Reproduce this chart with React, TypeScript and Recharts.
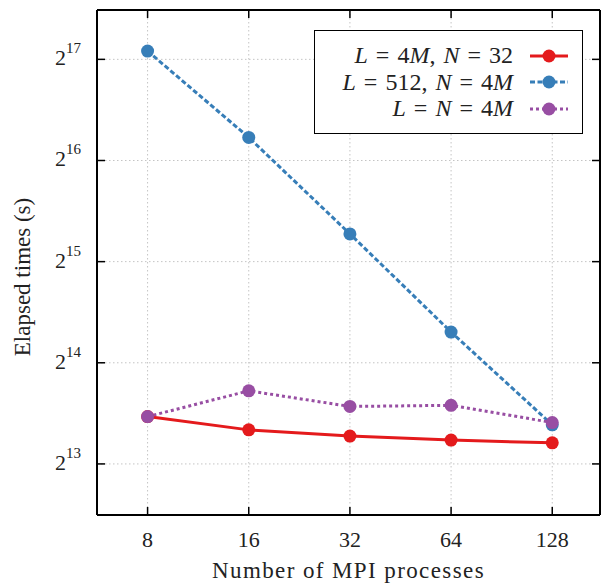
import { CartesianGrid, Legend, Line, LineChart, ReferenceLine, XAxis, YAxis } from "recharts"

// number of MPI processes
const procs = [8, 16, 32, 64, 128]
// elapsed times (s) per series
const timesL4mN32 = [11330, 10345, 9913, 9645, 9465]
const timesL512N4m = [138750, 76750, 39630, 20225, 10710]
const timesLN4m = [11330, 13520, 12145, 12240, 10877]

const seriesNames = ["L = 4M, N = 32", "L = 512, N = 4M", "L = N = 4M"]
const seriesColors = ["#e41a1c", "#377eb8", "#984ea3"]
const seriesDash = ["", "5 2.5", "3 3"]

const xTicks = [8, 16, 32, 64, 128]
const yExponents = [13, 14, 15, 16, 17]
const yTicks = yExponents.map((e) => Math.pow(2, e))

const X_DOMAIN = [Math.pow(2, 2.5), Math.pow(2, 7.472)]
const Y_DOMAIN = [Math.pow(2, 12.495), Math.pow(2, 17.488)]

const W = 606
const H = 584
const PLOT_LEFT = 97
const PLOT_TOP = 10
const PLOT_RIGHT = 600
const PLOT_BOTTOM = 515
const FONT = "'Liberation Serif', 'Times New Roman', serif"

const data = procs.map((p, i) => ({
  procs: p,
  a: timesL4mN32[i],
  b: timesL512N4m[i],
  c: timesLN4m[i],
}))

function XTick(props: any) {
  const { x, y, payload } = props
  return (
    <g>
      <line x1={x} x2={x} y1={y} y2={y - 8} stroke="#000" strokeWidth={1.5} />
      <line x1={x} x2={x} y1={PLOT_TOP} y2={PLOT_TOP + 8} stroke="#000" strokeWidth={1.5} />
      <text x={x} y={y + 32} textAnchor="middle" fontSize={22} fill="#222" fontFamily={FONT}>
        {payload.value}
      </text>
    </g>
  )
}

function YTick(props: any) {
  const { x, y, payload } = props
  const exp = Math.round(Math.log2(payload.value))
  return (
    <g>
      <line x1={x} x2={x + 8} y1={y} y2={y} stroke="#000" strokeWidth={1.5} />
      <line x1={PLOT_RIGHT - 8} x2={PLOT_RIGHT} y1={y} y2={y} stroke="#000" strokeWidth={1.5} />
      <text x={x - 16} y={y + 6} textAnchor="end" fontSize={22} fill="#222" fontFamily={FONT}>
        <tspan>2</tspan>
        <tspan dy={-12} fontSize={15}>{exp}</tspan>
      </text>
    </g>
  )
}

// italic letters, upright digits and operators, math-like spacing
function MathText({ text }: { text: string }) {
  return (
    <span>
      {text.split("").map((ch, i) =>
        /[A-Z]/.test(ch) ? (
          <i key={i}>{ch}</i>
        ) : (
          <span key={i}>{ch === " " ? "\u2004" : ch}</span>
        )
      )}
    </span>
  )
}

function LegendBox() {
  return (
    <div
      style={{
        position: "relative",
        width: 269,
        height: 104,
        border: "1.5px solid #000",
        boxSizing: "border-box",
        background: "#fff",
        fontFamily: FONT,
        fontSize: 24,
        color: "#222",
      }}
    >
      {seriesNames.map((name, i) => (
        <div
          key={name}
          style={{ position: "absolute", left: 0, top: 11 + i * 26.5, height: 27, width: 267, display: "flex", alignItems: "center" }}
        >
          <div style={{ width: 198, textAlign: "right", whiteSpace: "nowrap" }}>
            <MathText text={name} />
          </div>
          <svg width={44} height={20} style={{ marginLeft: 15 }}>
            <line
              x1={2}
              x2={40}
              y1={10}
              y2={10}
              stroke={seriesColors[i]}
              strokeWidth={3}
              strokeDasharray={seriesDash[i] || undefined}
            />
            <circle cx={21} cy={10} r={6.5} fill={seriesColors[i]} />
          </svg>
        </div>
      ))}
    </div>
  )
}

export default function App() {
  const keys = ["a", "b", "c"]
  return (
    <div style={{ position: "absolute", left: 0, top: 0 }}>
      <LineChart
        width={W}
        height={H}
        data={data}
        margin={{ top: PLOT_TOP, right: W - PLOT_RIGHT, bottom: 0, left: 0 }}
        style={{ fontFamily: FONT }}
      >
        <CartesianGrid stroke="#c4c4c4" strokeDasharray="1.5 2.5" />
        <XAxis
          dataKey="procs"
          type="number"
          scale="log"
          domain={X_DOMAIN}
          allowDataOverflow
          ticks={xTicks}
          interval={0}
          height={H - PLOT_BOTTOM}
          tickLine={false}
          tickSize={0}
          tickMargin={0}
          axisLine={{ stroke: "#000", strokeWidth: 2 }}
          tick={<XTick />}
          label={{
            content: () => (
              <text
                x={(PLOT_LEFT + PLOT_RIGHT) / 2}
                y={578}
                textAnchor="middle"
                fontSize={23}
                letterSpacing={1.4}
                fill="#222"
                fontFamily={FONT}
              >
                Number of MPI processes
              </text>
            ),
          }}
        />
        <YAxis
          type="number"
          scale="log"
          domain={Y_DOMAIN}
          allowDataOverflow
          ticks={yTicks}
          interval={0}
          width={PLOT_LEFT}
          tickLine={false}
          tickSize={0}
          tickMargin={0}
          axisLine={{ stroke: "#000", strokeWidth: 2 }}
          tick={<YTick />}
          label={{
            content: () => (
              <text
                transform="translate(30,277) rotate(-90)"
                textAnchor="middle"
                fontSize={23}
                fill="#222"
                fontFamily={FONT}
              >
                Elapsed times (s)
              </text>
            ),
          }}
        />
        <ReferenceLine y={Y_DOMAIN[1]} stroke="#000" strokeWidth={2} ifOverflow="visible" />
        <ReferenceLine x={X_DOMAIN[1]} stroke="#000" strokeWidth={2} ifOverflow="visible" />
        {keys.map((k, i) => (
          <Line
            key={k}
            dataKey={k}
            name={seriesNames[i]}
            stroke={seriesColors[i]}
            strokeWidth={3}
            strokeDasharray={seriesDash[i] || undefined}
            dot={{ r: 6.5, fill: seriesColors[i], stroke: seriesColors[i], strokeWidth: 0, strokeDasharray: "none" }}
            activeDot={false}
            isAnimationActive={false}
          />
        ))}
        <Legend
          layout="vertical"
          align="center"
          verticalAlign="middle"
          wrapperStyle={{ left: 314, top: 30, width: 269, height: 104 }}
          content={() => <LegendBox />}
        />
      </LineChart>
    </div>
  )
}
